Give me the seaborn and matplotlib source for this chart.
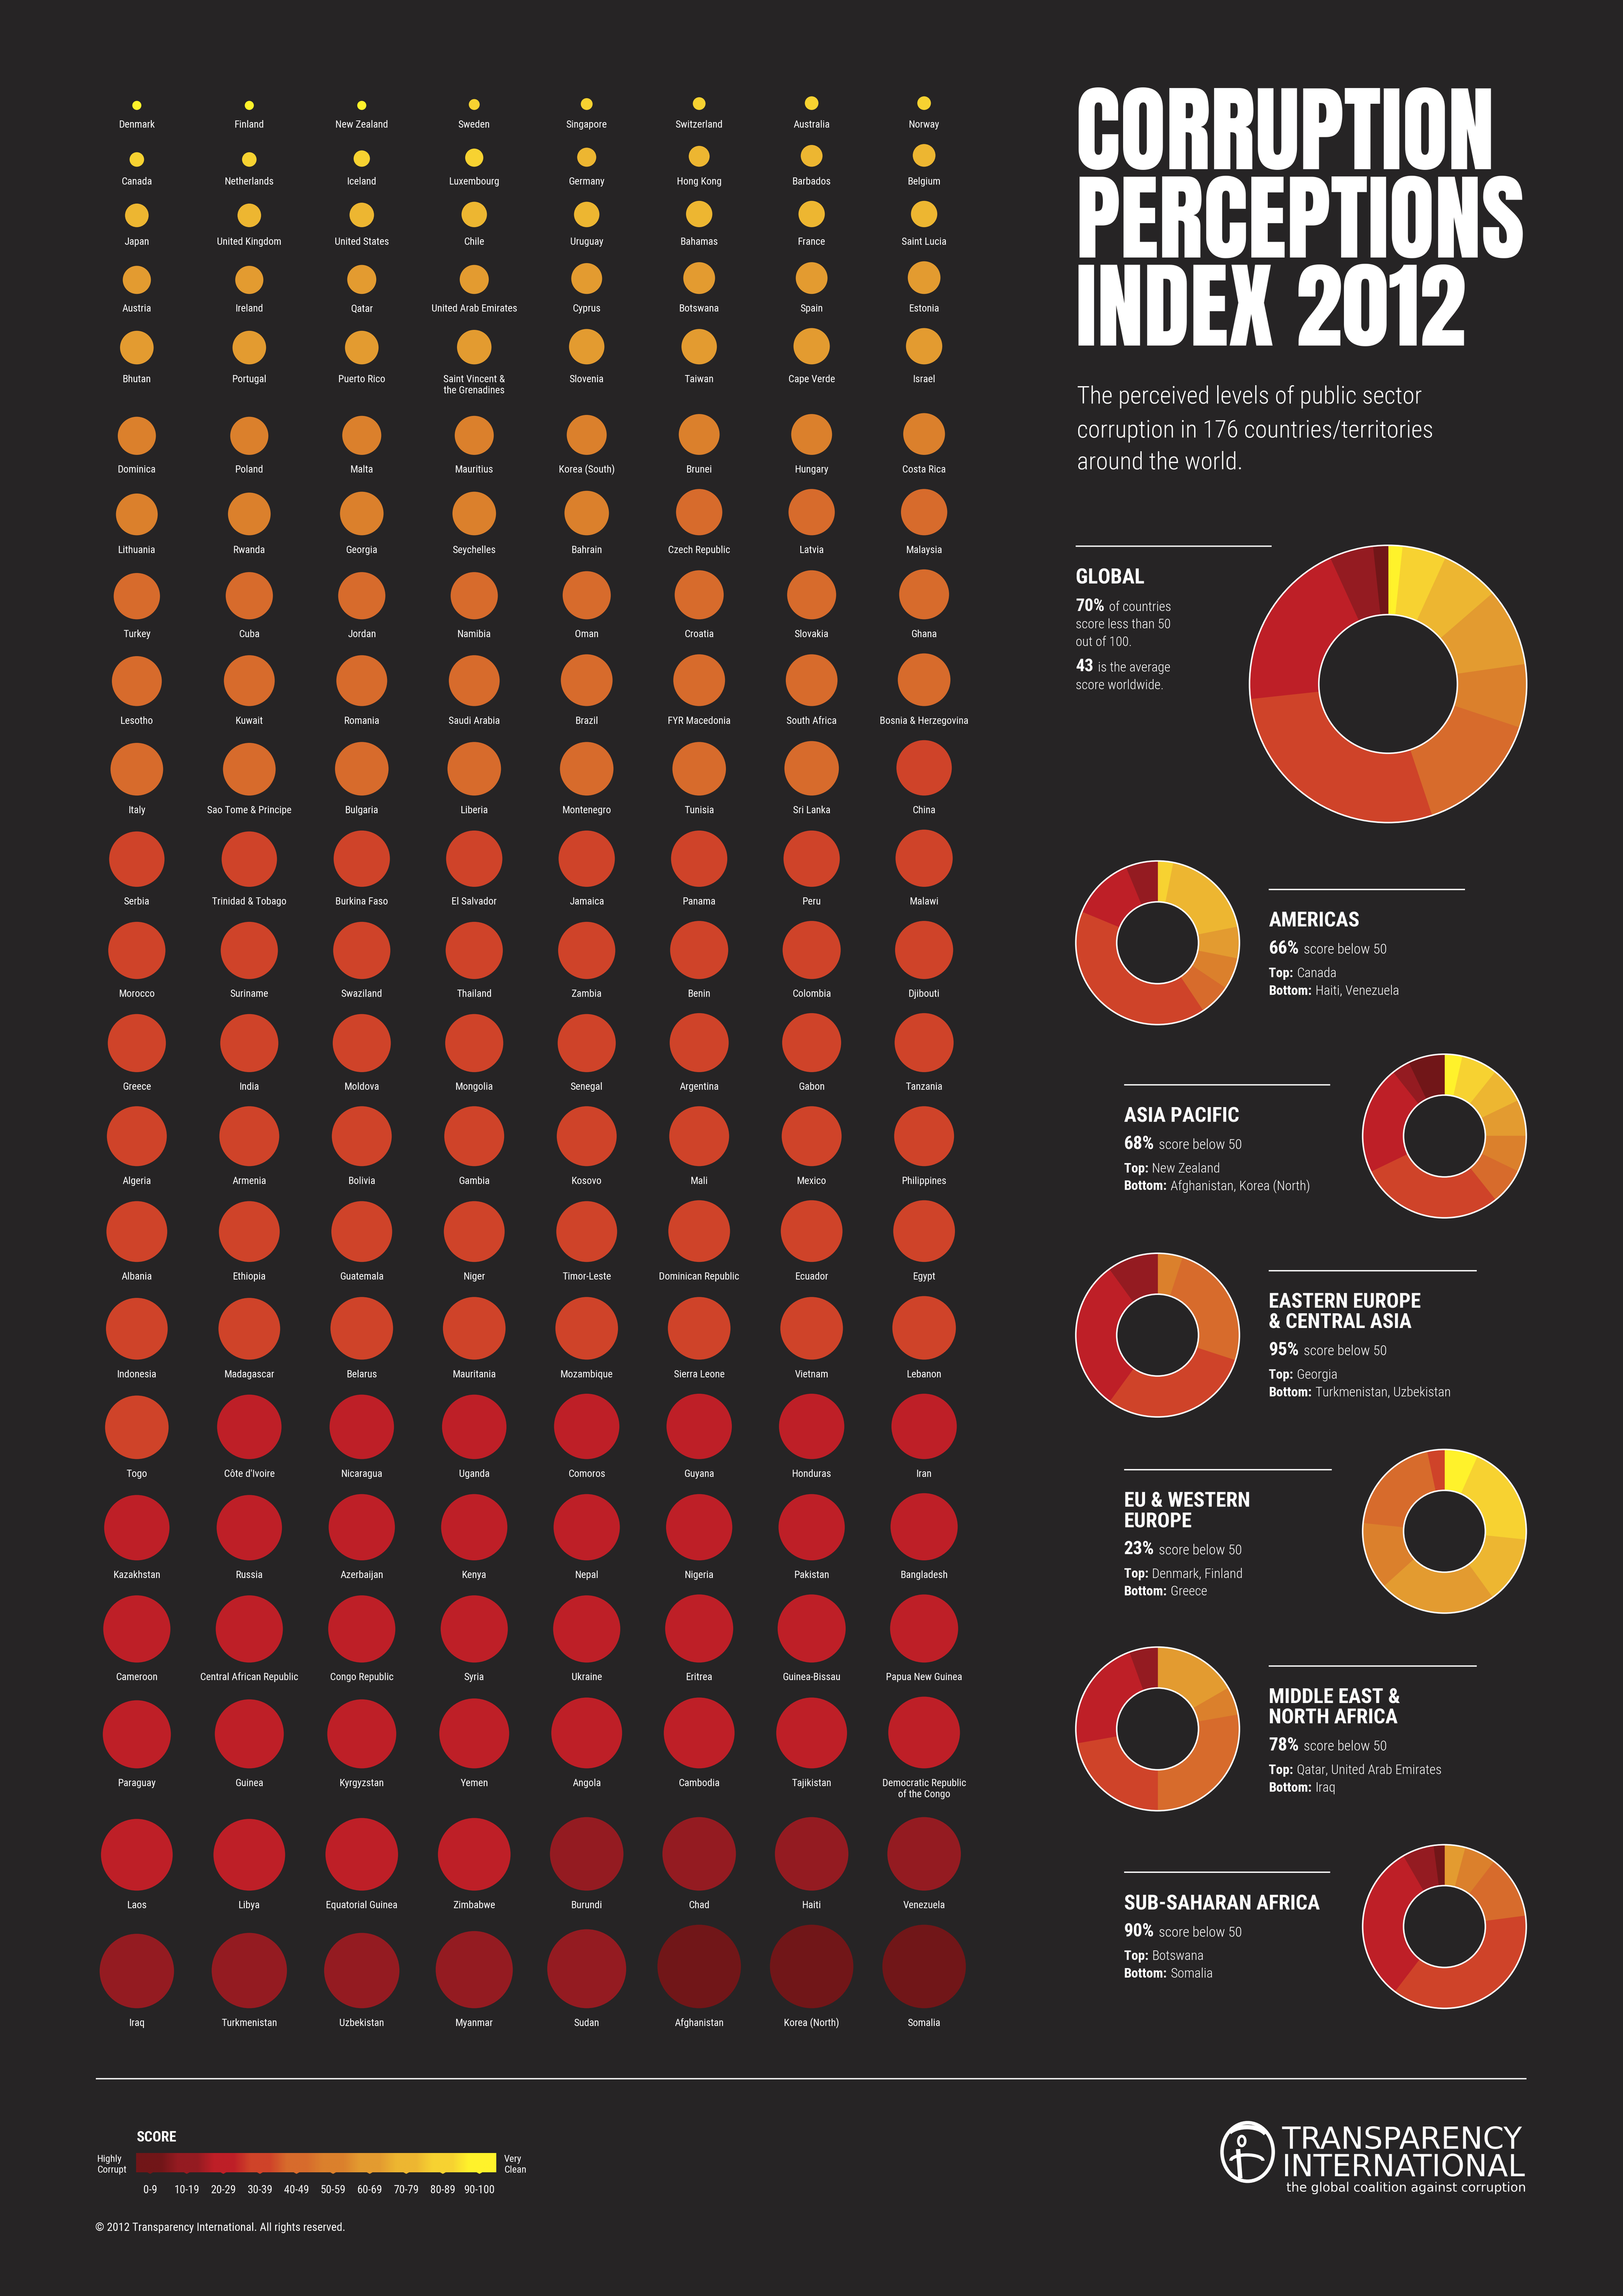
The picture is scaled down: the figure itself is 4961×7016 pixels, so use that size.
import os
import numpy as np
import pandas as pd
import matplotlib
matplotlib.use("Agg")
import matplotlib.pyplot as plt
import seaborn as sns
from matplotlib import font_manager as fm
from matplotlib.colors import LinearSegmentedColormap
from matplotlib.patches import Ellipse, Arc, Circle

# ---- data -------------------------------------------------------------
countries = [
    "Denmark", "Finland", "New Zealand", "Sweden", "Singapore", "Switzerland", "Australia", "Norway",
    "Canada", "Netherlands", "Iceland", "Luxembourg", "Germany", "Hong Kong", "Barbados", "Belgium",
    "Japan", "United Kingdom", "United States", "Chile", "Uruguay", "Bahamas", "France", "Saint Lucia",
    "Austria", "Ireland", "Qatar", "United Arab Emirates", "Cyprus", "Botswana", "Spain", "Estonia",
    "Bhutan", "Portugal", "Puerto Rico", "Saint Vincent &\nthe Grenadines", "Slovenia", "Taiwan", "Cape Verde", "Israel",
    "Dominica", "Poland", "Malta", "Mauritius", "Korea (South)", "Brunei", "Hungary", "Costa Rica",
    "Lithuania", "Rwanda", "Georgia", "Seychelles", "Bahrain", "Czech Republic", "Latvia", "Malaysia",
    "Turkey", "Cuba", "Jordan", "Namibia", "Oman", "Croatia", "Slovakia", "Ghana",
    "Lesotho", "Kuwait", "Romania", "Saudi Arabia", "Brazil", "FYR Macedonia", "South Africa", "Bosnia & Herzegovina",
    "Italy", "Sao Tome & Principe", "Bulgaria", "Liberia", "Montenegro", "Tunisia", "Sri Lanka", "China",
    "Serbia", "Trinidad & Tobago", "Burkina Faso", "El Salvador", "Jamaica", "Panama", "Peru", "Malawi",
    "Morocco", "Suriname", "Swaziland", "Thailand", "Zambia", "Benin", "Colombia", "Djibouti",
    "Greece", "India", "Moldova", "Mongolia", "Senegal", "Argentina", "Gabon", "Tanzania",
    "Algeria", "Armenia", "Bolivia", "Gambia", "Kosovo", "Mali", "Mexico", "Philippines",
    "Albania", "Ethiopia", "Guatemala", "Niger", "Timor-Leste", "Dominican Republic", "Ecuador", "Egypt",
    "Indonesia", "Madagascar", "Belarus", "Mauritania", "Mozambique", "Sierra Leone", "Vietnam", "Lebanon",
    "Togo", "Côte d'Ivoire", "Nicaragua", "Uganda", "Comoros", "Guyana", "Honduras", "Iran",
    "Kazakhstan", "Russia", "Azerbaijan", "Kenya", "Nepal", "Nigeria", "Pakistan", "Bangladesh",
    "Cameroon", "Central African Republic", "Congo Republic", "Syria", "Ukraine", "Eritrea", "Guinea-Bissau", "Papua New Guinea",
    "Paraguay", "Guinea", "Kyrgyzstan", "Yemen", "Angola", "Cambodia", "Tajikistan", "Democratic Republic\nof the Congo",
    "Laos", "Libya", "Equatorial Guinea", "Zimbabwe", "Burundi", "Chad", "Haiti", "Venezuela",
    "Iraq", "Turkmenistan", "Uzbekistan", "Myanmar", "Sudan", "Afghanistan", "Korea (North)", "Somalia",
]
scores = [
    90, 90, 90, 88, 87, 86, 85, 85,
    84, 84, 82, 80, 79, 77, 76, 75,
    74, 74, 73, 72, 72, 71, 71, 71,
    69, 69, 68, 68, 66, 65, 65, 64,
    63, 63, 63, 62, 61, 61, 60, 60,
    58, 58, 57, 57, 56, 55, 55, 54,
    54, 53, 52, 52, 51, 49, 49, 49,
    49, 48, 48, 48, 47, 46, 46, 45,
    45, 44, 44, 44, 43, 43, 43, 42,
    42, 42, 41, 41, 41, 41, 40, 39,
    39, 39, 38, 38, 38, 38, 38, 37,
    37, 37, 37, 37, 37, 36, 36, 36,
    36, 36, 36, 36, 36, 35, 35, 35,
    34, 34, 34, 34, 34, 34, 34, 34,
    33, 33, 33, 33, 33, 32, 32, 32,
    32, 32, 31, 31, 31, 31, 31, 30,
    30, 29, 29, 29, 28, 28, 28, 28,
    28, 28, 27, 27, 27, 27, 27, 26,
    26, 26, 26, 26, 26, 25, 25, 25,
    25, 24, 24, 23, 22, 22, 22, 21,
    21, 21, 20, 20, 19, 19, 19, 19,
    18, 17, 17, 15, 13, 8, 8, 8,
]

bands = ["90-100", "80-89", "70-79", "60-69", "50-59", "40-49", "30-39", "20-29", "10-19", "0-9"]
band_colors = ["#FFF22B", "#F7D231", "#EDB631", "#E39B30", "#DB802C",
               "#D76B2C", "#CF4329", "#BE1F27", "#941B21", "#711618"]

# countries per band, same order as bands
americas = [0, 1, 6, 2, 2, 2, 13, 4, 2, 0]
asia_pacific = [1, 2, 2, 2, 2, 2, 8, 6, 1, 2]
eastern_europe = [0, 0, 0, 0, 1, 5, 6, 6, 2, 0]
eu_western = [2, 6, 4, 7, 4, 6, 1, 0, 0, 0]
mena = [0, 0, 0, 3, 1, 5, 4, 4, 1, 0]
sub_saharan = [0, 0, 0, 2, 3, 6, 18, 15, 3, 1]

# ---- fonts ------------------------------------------------------------
files = {}
for f in fm.fontManager.ttflist:
    files.setdefault(os.path.basename(f.fname).lower(), f.fname)


def pick(names, family, weight="normal"):
    for n in names:
        if n.lower() in files:
            return fm.FontProperties(fname=files[n.lower()])
    return fm.FontProperties(family=family, weight=weight)


f_title = fm.FontProperties(family=["Anton", "DejaVu Sans"])
f_bold = pick(["RobotoCondensed-Bold.ttf", "LiberationSansNarrow-Bold.ttf"], "DejaVu Sans", "bold")
f_light = pick(["RobotoCondensed-Light.ttf", "RobotoCondensed-Regular.ttf"], "DejaVu Sans")
f_reg = pick(["RobotoCondensed-Regular.ttf", "LiberationSansNarrow-Regular.ttf"], "DejaVu Sans")
f_logo = fm.FontProperties(family="DejaVu Sans")

# ---- canvas: one axes in reference pixel units -------------------------
BG = "#262425"
K = 4961 / 1109
W, H = 1109.0, 7016 / K
PT = K * 72 / 300          # points per reference pixel

sns.set_theme(style="white")
fig = plt.figure(figsize=(4961 / 300, 7016 / 300), dpi=300, facecolor=BG)
ax = fig.add_axes([0, 0, 1, 1])
ax.set_facecolor(BG)
rend = fig.canvas.get_renderer()


def text_w(s, fp, size):
    t = ax.text(0, 0, s, fontproperties=fp, fontsize=size)
    w = t.get_window_extent(renderer=rend).width / K
    t.remove()
    return w


def fit(s, fp, width, cap, ratio=0.715):
    return min(10 * width / text_w(s, fp, 10), cap / ratio * PT)


def txt(x, y, s, fp, size, **kw):
    kw.setdefault("ha", "left")
    return ax.text(x, y, s, fontproperties=fp, fontsize=size, color="white", va="baseline", **kw)


def rich(x, y, parts):
    for s, fp, size in parts:
        t = txt(x, y, s, fp, size)
        x += t.get_window_extent(renderer=rend).width / K + 0.26 * size / PT


def rule(x0, x1, y):
    ax.plot([x0, x1], [y, y], color="white", lw=1.0, solid_capstyle="butt")


# ---- country grid -----------------------------------------------------
df = pd.DataFrame({"country": countries, "score": scores})
df["row"] = np.arange(len(df)) // 8
df["col"] = np.arange(len(df)) % 8
df["band"] = pd.cut(df["score"], bins=[-1, 9, 19, 29, 39, 49, 59, 69, 79, 89, 100], labels=bands[::-1])
df["d"] = 0.62 * (100 - df["score"])
df["area"] = (100 - df["score"]) ** 2

row_d = df.groupby("row")["d"].max()
two_line = df.groupby("row")["country"].apply(lambda s: s.str.contains("\n").any())
base, b = [], 75.1
for r in range(len(row_d)):
    if r > 0:
        b += 23.3 + row_d[r] + (10 if two_line[r - 1] else 0)
    base.append(b)
df["base"] = df["row"].map(dict(enumerate(base)))
df["x"] = 93.5 + 76.85 * df["col"]
df["y"] = df["base"] - df["d"] / 2

sns.scatterplot(data=df, x="x", y="y", hue="band", palette=dict(zip(bands, band_colors)),
                size="area", sizes=(0, (0.62 * 100 * PT) ** 2), size_norm=(0, 10000),
                linewidth=0, legend=False, ax=ax)

s_lab = fit("Equatorial Guinea", f_reg, 49, 5.6)
for _, r in df.iterrows():
    for k, line in enumerate(r["country"].split("\n")):
        txt(r["x"], r["base"] + 12.1 + k * 7.6, line, f_reg, s_lab, ha="center")

# ---- title ------------------------------------------------------------
s_t = fit("PERCEPTIONS", f_title, 306, 50, ratio=0.72)
for y, s in zip([115.6, 175.9, 236.0], ["CORRUPTION", "PERCEPTIONS", "INDEX 2012"]):
    txt(735, y, s, f_title, s_t)

s_sub = fit("corruption in 176 countries/territories", f_light, 244, 14.4)
for y, s in zip([275.6, 298.9, 320.6], ["The perceived levels of public sector",
                                         "corruption in 176 countries/territories",
                                         "around the world."]):
    txt(736, y, s, f_light, s_sub)


# ---- donuts -----------------------------------------------------------
def donut(counts, cx, cy, R):
    m = 1.04
    axd = fig.add_axes([(cx - R * m) / W, 1 - (cy + R * m) / H, 2 * R * m / W, 2 * R * m / H])
    vals = [c for c in counts if c > 0]
    cols = [col for c, col in zip(counts, band_colors) if c > 0]
    wedges, _ = axd.pie(vals, colors=cols, startangle=90, counterclock=False, radius=1,
                        wedgeprops=dict(width=0.5))
    for w_, c in zip(wedges, cols):
        w_.set_edgecolor(c)
        w_.set_linewidth(0.4)
    for rr in (1.0, 0.5):
        axd.add_patch(Circle((0, 0), rr, fill=False, ec="white", lw=1.1))
    axd.set_xlim(-m, m)
    axd.set_ylim(-m, m)
    axd.set_aspect("equal")
    axd.axis("off")


global_counts = df["band"].value_counts().reindex(bands).tolist()
donut(global_counts, 948.5, 467.2, 94.7)

rule(735, 869, 373)
txt(735, 398.6, "GLOBAL", f_bold, fit("GLOBAL", f_bold, 47, 10.5))
s_gb = fit("score less than 50", f_light, 65, 7.4)
rich(735, 417.4, [("70%", f_bold, s_gb * 1.3), ("of countries", f_light, s_gb)])
txt(735, 429.2, "score less than 50", f_light, s_gb)
txt(735, 441.3, "out of 100.", f_light, s_gb)
rich(735, 458.7, [("43", f_bold, s_gb * 1.3), ("is the average", f_light, s_gb)])
txt(735, 470.8, "score worldwide.", f_light, s_gb)

regions = [
    (["AMERICAS"], "66%", "Canada", "Haiti, Venezuela", americas, (791, 644), 867, 607.6, 1001),
    (["ASIA PACIFIC"], "68%", "New Zealand", "Afghanistan, Korea (North)", asia_pacific, (987, 776), 768, 741, 909),
    (["EASTERN EUROPE", "& CENTRAL ASIA"], "95%", "Georgia", "Turkmenistan, Uzbekistan",
     eastern_europe, (791, 912), 867, 868, 1009),
    (["EU & WESTERN", "EUROPE"], "23%", "Denmark, Finland", "Greece", eu_western, (987, 1046), 768, 1004, 910),
    (["MIDDLE EAST &", "NORTH AFRICA"], "78%", "Qatar, United Arab Emirates", "Iraq", mena, (791, 1181), 867, 1138, 1009),
    (["SUB-SAHARAN AFRICA"], "90%", "Botswana", "Somalia", sub_saharan, (987, 1316), 768, 1279, 909),
]
s_rt = fit("AMERICAS", f_bold, 62, 10.3)
s_tb = 10 * 89 / (text_w("Bottom:", f_bold, 10) + text_w("Haiti, Venezuela", f_light, 10) + 0.26 * 10 / PT)
s_tb = min(s_tb, 7.3 / 0.715 * PT)
for title, pct, top, bottom, counts, (cx, cy), tx, ly, lx1 in regions:
    donut(counts, cx, cy, 55.9)
    rule(tx, lx1, ly)
    y = ly + 25.4
    for k, line in enumerate(title):
        txt(tx, y, line, f_bold, s_rt)
        if k < len(title) - 1:
            y += 13.9
    y += 18.5
    rich(tx, y, [(pct, f_bold, s_tb * 1.35), ("score below 50", f_light, s_tb * 1.05)])
    rich(tx, y + 16, [("Top:", f_bold, s_tb), (top, f_light, s_tb)])
    rich(tx, y + 28, [("Bottom:", f_bold, s_tb), (bottom, f_light, s_tb)])

# ---- bottom: score legend ---------------------------------------------
rule(65.4, 1043, 1420)
ticks = 102.6 + 25 * np.arange(10)
bar_l, bar_r, bar_t, bar_b = 93.0, 339.0, 1470.9, 1483.9
low_high = band_colors[::-1]
nodes = []
for k, c in enumerate(low_high):
    t = (ticks[k] - bar_l) / (bar_r - bar_l)
    nodes.append((0.0 if k == 0 else t - 0.028, c))
    nodes.append((1.0 if k == 9 else t + 0.028, c))
cmap = LinearSegmentedColormap.from_list("cpi", nodes)
ax.imshow(np.linspace(0, 1, 800)[None, :], cmap=cmap, extent=(bar_l, bar_r, bar_b, bar_t),
          aspect="auto", interpolation="bilinear", zorder=2)
ax.scatter(ticks, [bar_b - 0.2] * 10, marker=[(-1, 0), (1, 0), (0, -0.55)],
           s=(4.6 * PT) ** 2, c=low_high, linewidths=0, zorder=3)

s_leg = fit("10-19", f_reg, 17.2, 5.8)
for x, lab in zip(ticks, bands[::-1]):
    txt(x, 1498.2, lab, f_reg, s_leg, ha="center")
txt(93.3, 1462.8, "SCORE", f_bold, fit("SCORE", f_bold, 27.2, 7.3))
s_end = fit("Corrupt", f_reg, 20.1, 5.3)
txt(66.4, 1476.8, "Highly", f_reg, s_end)
txt(66.4, 1484.0, "Corrupt", f_reg, s_end)
txt(344.4, 1476.8, "Very", f_reg, s_end)
txt(344.4, 1484.0, "Clean", f_reg, s_end)
cr = "© 2012 Transparency International. All rights reserved."
txt(65, 1524, cr, f_reg, fit(cr, f_reg, 171, 6.1))

# ---- logo -------------------------------------------------------------
ax.add_patch(Ellipse((852.5, 1470), 35, 40, fill=False, ec="white", lw=2.4 * PT))
ax.add_patch(Ellipse((848.5, 1462.5), 6.5, 8.5, fc="white", ec="none"))
ax.add_patch(Ellipse((848.5, 1462.5), 3.0, 4.8, fc=BG, ec="none"))
ax.add_patch(Arc((852, 1461), 28, 16, theta1=200, theta2=345, ec="white", lw=3.0 * PT))
ax.plot([846, 847.5], [1468, 1488], color="white", lw=3.0 * PT, solid_capstyle="butt")
ax.add_patch(Arc((852, 1476), 22, 8, theta1=180, theta2=360, ec="white", lw=2.2 * PT))

s_logo = fit("TRANSPARENCY", f_logo, 166, 14.8)
txt(876, 1467.8, "TRANSPARENCY", f_logo, s_logo)
txt(876, 1486.5, "INTERNATIONAL", f_logo, s_logo)
tag = "the global coalition against corruption"
txt(879, 1497, tag, f_logo, fit(tag, f_logo, 164, 8.0))

ax.set_xlim(0, W)
ax.set_ylim(H, 0)
ax.axis("off")
fig.savefig("out.png", dpi=300, facecolor=BG)
